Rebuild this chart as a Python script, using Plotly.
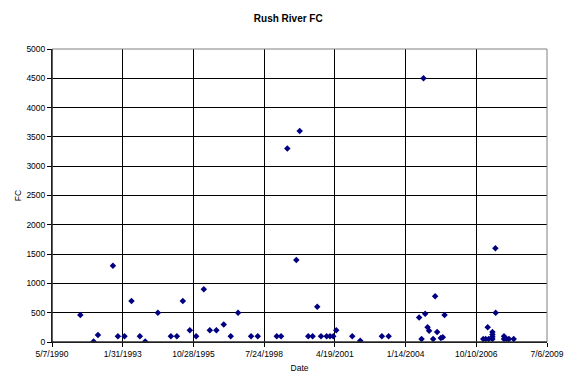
import plotly.graph_objects as go

dates = [
    "1991-06-11", "1991-12-16", "1992-02-16", "1992-09-15", "1992-11-24",
    "1993-02-25", "1993-06-04", "1993-10-01", "1993-12-15", "1994-06-12",
    "1994-12-13", "1995-03-08", "1995-05-31", "1995-09-07", "1995-12-05",
    "1996-03-23", "1996-06-16", "1996-09-17", "1996-12-30", "1997-04-08",
    "1997-07-20", "1998-01-20", "1998-04-25", "1999-01-18", "1999-03-20",
    "1999-06-17", "1999-10-22", "1999-12-09", "2000-04-08", "2000-06-09",
    "2000-08-13", "2000-10-05", "2000-12-24", "2001-02-09", "2001-03-27",
    "2001-05-09", "2001-12-21", "2002-04-13", "2003-02-13", "2003-05-19",
    "2004-07-24", "2004-08-27", "2004-09-24", "2004-10-17", "2004-11-20",
    "2004-12-12", "2005-02-07", "2005-03-07", "2005-04-04", "2005-05-26",
    "2005-06-24", "2005-07-18", "2007-01-16", "2007-02-20", "2007-03-20",
    "2007-04-03", "2007-05-26", "2007-05-26", "2007-05-26", "2007-05-26",
    "2007-07-07", "2007-07-11", "2007-11-06", "2007-11-06", "2007-12-14",
    "2008-01-15", "2008-03-22",
]
fc = [
    460, 10, 120, 1300, 100,
    100, 700, 100, 10, 500,
    100, 100, 700, 200, 100,
    900, 200, 200, 300, 100,
    500, 100, 100, 100, 100,
    3300, 1400, 3600, 100, 100,
    600, 100, 100, 100, 100,
    200, 100, 20, 100, 100,
    420, 50, 4500, 480, 250,
    190, 50, 780, 170, 70,
    80, 460, 50, 50, 250,
    50, 170, 130, 90, 50,
    1600, 500, 100, 50, 50,
    50, 50,
]

x_tick_vals = ["1990-05-07", "1993-01-31", "1995-10-28", "1998-07-24",
               "2001-04-19", "2004-01-14", "2006-10-10", "2009-07-06"]
x_tick_text = ["5/7/1990", "1/31/1993", "10/28/1995", "7/24/1998",
               "4/19/2001", "1/14/2004", "10/10/2006", "7/6/2009"]
y_ticks = list(range(0, 5001, 500))

FONT = "Liberation Sans, Arial, sans-serif"

fig = go.Figure()
fig.add_trace(go.Scatter(
    x=dates, y=fc, mode="markers",
    marker=dict(symbol="diamond", size=5, color="#000080",
                line=dict(width=0)),
    showlegend=False,
))

fig.update_layout(
    width=580, height=386,
    margin=dict(l=52, r=33, t=49, b=44),
    paper_bgcolor="white", plot_bgcolor="white",
    font=dict(family=FONT, size=8.5, color="black"),
    title=dict(text="<b>Rush River FC</b>", x=0.497, xanchor="center",
               y=0.951, yanchor="middle",
               font=dict(family=FONT, size=10, color="black")),
    showlegend=False,
)
fig.update_xaxes(
    type="date", range=[x_tick_vals[0], x_tick_vals[-1]],
    tickmode="array", tickvals=x_tick_vals, ticktext=x_tick_text,
    showgrid=True, gridcolor="black", gridwidth=1,
    showline=True, linecolor="black", linewidth=1,
    ticks="outside", ticklen=4, tickcolor="black",
    tickfont=dict(size=8.5),
    title=dict(text="Date", font=dict(size=8.5), standoff=6),
    zeroline=False,
)
fig.update_yaxes(
    range=[0, 5000], tickmode="array", tickvals=y_ticks,
    showgrid=True, gridcolor="black", gridwidth=1,
    showline=True, linecolor="black", linewidth=1,
    ticks="outside", ticklen=4, tickcolor="black",
    tickfont=dict(size=8.5),
    title=dict(text="FC", font=dict(size=8.5), standoff=3),
    zeroline=False,
)
fig.add_shape(type="rect", xref="paper", yref="paper", x0=0, y0=0, x1=1, y1=1,
              line=dict(color="#808080", width=1), layer="above")
fig.add_shape(type="line", xref="paper", yref="paper", x0=0, y0=0, x1=0, y1=1,
              line=dict(color="black", width=1), layer="above")
fig.add_shape(type="line", xref="paper", yref="paper", x0=0, y0=0, x1=1, y1=0,
              line=dict(color="black", width=1), layer="above")

fig.write_html("out.html")
